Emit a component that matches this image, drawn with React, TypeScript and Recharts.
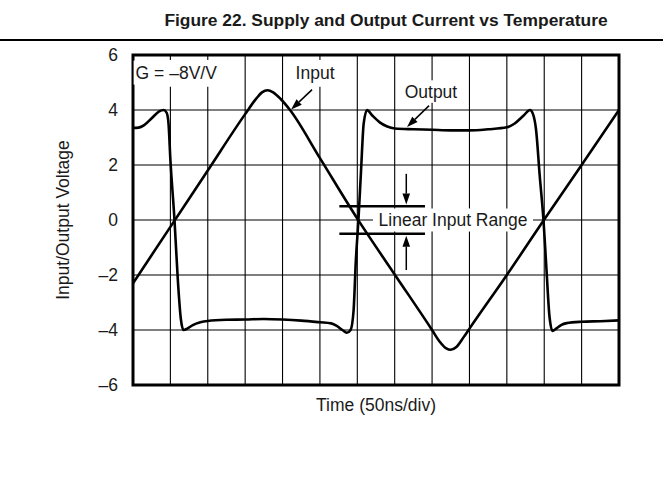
import React from 'react';
import {
  LineChart,
  Line,
  XAxis,
  YAxis,
  CartesianGrid,
  ReferenceLine,
  ReferenceArea,
  Label,
} from 'recharts';

const title = 'Figure 22. Supply and Output Current vs Temperature';
const xAxisLabel = 'Time (50ns/div)';
const yAxisLabel = 'Input/Output Voltage';
const gainLabel = 'G = –8V/V';
const inputLabel = 'Input';
const outputLabel = 'Output';
const rangeLabel = 'Linear Input Range';

const xTicks = [0, 1, 2, 3, 4, 5, 6, 7, 8, 9, 10, 11, 12, 13];
const yTicks = [-6, -4, -2, 0, 2, 4, 6];

const inputTime = [0, 1, 2, 3, 3.3, 3.45, 3.6, 3.75, 3.95, 4.2, 5, 6, 7, 8, 8.2, 8.38, 8.5, 8.65, 8.85, 9.0, 10, 11, 12, 13];
const inputVolt = [-2.3, -0.25, 1.8, 3.85, 4.42, 4.64, 4.72, 4.64, 4.4, 4.0, 2.25, 0.05, -1.98, -4.0, -4.42, -4.67, -4.72, -4.62, -4.25, -3.95, -2.0, 0.02, 2.0, 4.0];

const outputTime = [0, 0.15, 0.3, 0.5, 0.7, 0.82, 0.9, 0.95, 1.0, 1.11, 1.2, 1.28, 1.35, 1.45, 1.6, 1.8, 2.0, 2.5, 3.0, 3.5, 4.0, 4.5, 5.0, 5.3, 5.45, 5.6, 5.72, 5.82, 5.9, 5.96, 6.03, 6.1, 6.17, 6.26, 6.4, 6.6, 6.8, 7.0, 7.5, 8, 8.5, 9, 9.5, 10, 10.2, 10.45, 10.62, 10.7, 10.78, 10.88, 10.98, 11.06, 11.14, 11.22, 11.32, 11.45, 11.6, 12, 12.5, 13];
const outputVolt = [3.35, 3.36, 3.45, 3.7, 3.95, 4.0, 3.9, 3.5, 2.2, 0, -2.2, -3.6, -4.0, -3.95, -3.82, -3.72, -3.67, -3.63, -3.62, -3.6, -3.62, -3.66, -3.72, -3.76, -3.85, -4.0, -4.1, -4.0, -3.3, -1.5, 0, 1.8, 3.5, 4.0, 3.8, 3.55, 3.4, 3.33, 3.3, 3.28, 3.26, 3.26, 3.3, 3.37, 3.5, 3.8, 4.0, 3.85, 3.3, 1.6, 0, -1.8, -3.5, -4.03, -3.95, -3.82, -3.75, -3.7, -3.68, -3.65];

const inputData = inputTime.map((t, i) => ({ t, v: inputVolt[i] }));
const outputData = outputTime.map((t, i) => ({ t, v: outputVolt[i] }));

// annotation anchors in data units
const inputArrow = [{ x: 4.79, y: 4.74 }, { x: 4.23, y: 4.02 }];
const outputArrow = [{ x: 7.92, y: 4.16 }, { x: 7.33, y: 3.38 }];
const rangeBarsX = [5.52, 7.81];
const rangeBarsY = [0.5, -0.5];
const rangeArrowDown = [{ x: 7.31, y: 1.68 }, { x: 7.31, y: 0.56 }];
const rangeArrowUp = [{ x: 7.31, y: -1.82 }, { x: 7.31, y: -0.57 }];
const gainPos = { x: 0.07, y: 5.36 };
const inputPos = { x: 4.87, y: 5.36 };
const outputPos = { x: 7.97, y: 4.67 };
const rangePos = { x: 8.56, y: 0 };

// label clear-zones where the grid is interrupted (data units)
const gridGaps = [
  { x0: 0.0, x1: 2.45, y0: 4.85, y1: 5.82 },
  { x0: 4.25, x1: 5.48, y0: 4.85, y1: 5.82 },
  { x0: 7.17, x1: 8.77, y0: 4.27, y1: 5.07 },
  { x0: 6.39, x1: 10.67, y0: -0.42, y1: 0.42 },
];

const verticalSegments = (t: number) => {
  const gaps = gridGaps
    .filter((g) => t > g.x0 && t < g.x1)
    .sort((a, b) => a.y0 - b.y0);
  const segs: { x: number; y: number }[][] = [];
  let start = -6;
  gaps.forEach((g) => {
    segs.push([{ x: t, y: start }, { x: t, y: g.y0 }]);
    start = g.y1;
  });
  segs.push([{ x: t, y: start }, { x: t, y: 6 }]);
  return segs;
};

const FONT = '"Liberation Sans", Arial, Helvetica, sans-serif';
const TEXT = '#1a1a1a';

const Arrow = (p: any) => {
  const { x1, y1, x2, y2 } = p;
  const ang = Math.atan2(y2 - y1, x2 - x1);
  const len = 11;
  const hw = 3.8;
  const bx = x2 - len * Math.cos(ang);
  const by = y2 - len * Math.sin(ang);
  const px = -Math.sin(ang) * hw;
  const py = Math.cos(ang) * hw;
  return (
    <g>
      <line x1={x1} y1={y1} x2={bx} y2={by} stroke="#000" strokeWidth={1.5} />
      <polygon points={`${x2},${y2} ${bx + px},${by + py} ${bx - px},${by - py}`} fill="#000" />
    </g>
  );
};

const textShape = (label: string, anchor: string, bg: number, bgH: number) => (p: any) => {
  const cx = p.x1;
  const cy = p.y1;
  const rx = anchor === 'start' ? cx - 2 : cx - bg / 2;
  return (
    <g>
      <rect x={rx} y={cy - bgH / 2} width={bg} height={bgH} fill="#fff" />
      <text
        x={cx}
        y={cy}
        textAnchor={anchor}
        dominantBaseline="central"
        fontFamily={FONT}
        fontSize={17.5}
        fill={TEXT}
      >
        {label}
      </text>
    </g>
  );
};

const fmt = (v: number) => (v < 0 ? '–' + Math.abs(v) : String(v));

export default function App() {
  return (
    <div style={{ position: 'absolute', left: 0, top: 0, width: 663, height: 481, background: '#fff' }}>
      <div
        style={{
          position: 'absolute',
          left: 386,
          top: 10,
          transform: 'translateX(-50%)',
          whiteSpace: 'nowrap',
          fontFamily: FONT,
          fontWeight: 'bold',
          fontSize: 17.4,
          color: TEXT,
          lineHeight: 'normal',
        }}
      >
        {title}
      </div>
      <div style={{ position: 'absolute', left: 0, top: 39, width: 663, height: 1.6, background: '#000' }} />
      <div style={{ position: 'absolute', left: 0, top: 0 }}>
        <LineChart width={663} height={481} margin={{ top: 55, right: 44, bottom: 56, left: 0 }}>
          <CartesianGrid stroke="#000" strokeWidth={1.1} horizontal vertical={false} />
          <XAxis
            type="number"
            dataKey="t"
            domain={[0, 13]}
            ticks={xTicks}
            tick={false}
            tickLine={false}
            axisLine={false}
            height={40}
            allowDataOverflow
          >
            <Label
              value={xAxisLabel}
              position="insideTop"
              offset={14}
              style={{ fontFamily: FONT, fontSize: 17.5, fill: TEXT }}
            />
          </XAxis>
          <YAxis
            type="number"
            domain={[-6, 6]}
            ticks={yTicks}
            tickFormatter={fmt}
            tickLine={false}
            axisLine={false}
            tickSize={0}
            tickMargin={15}
            width={133}
            tick={{ fontFamily: FONT, fontSize: 17.5, fill: TEXT }}
            allowDataOverflow
          >
            <Label
              value={yAxisLabel}
              angle={-90}
              position="center"
              dx={-4}
              style={{ fontFamily: FONT, fontSize: 17.5, fill: TEXT, textAnchor: 'middle' }}
            />
          </YAxis>
          {xTicks.flatMap((t) =>
            verticalSegments(t).map((seg, i) => (
              <ReferenceLine key={'vg' + t + '-' + i} segment={seg} stroke="#000" strokeWidth={1.1} />
            ))
          )}
          <ReferenceLine segment={[rangePos, rangePos]} shape={textShape(rangeLabel, 'middle', 160, 22)} />
          <ReferenceLine segment={[gainPos, gainPos]} shape={textShape(gainLabel, 'start', 90, 24)} />
          <ReferenceLine segment={[inputPos, inputPos]} shape={textShape(inputLabel, 'middle', 46, 24)} />
          <ReferenceLine segment={[outputPos, outputPos]} shape={textShape(outputLabel, 'middle', 60, 22)} />
          <ReferenceLine
            segment={[{ x: rangeBarsX[0], y: rangeBarsY[0] }, { x: rangeBarsX[1], y: rangeBarsY[0] }]}
            stroke="#000"
            strokeWidth={2.5}
          />
          <ReferenceLine
            segment={[{ x: rangeBarsX[0], y: rangeBarsY[1] }, { x: rangeBarsX[1], y: rangeBarsY[1] }]}
            stroke="#000"
            strokeWidth={2.5}
          />
          <ReferenceLine segment={rangeArrowDown} shape={Arrow} />
          <ReferenceLine segment={rangeArrowUp} shape={Arrow} />
          <ReferenceLine segment={inputArrow} shape={Arrow} />
          <ReferenceLine segment={outputArrow} shape={Arrow} />
          <Line
            data={inputData}
            dataKey="v"
            type="monotone"
            stroke="#000"
            strokeWidth={2.6}
            dot={false}
            isAnimationActive={false}
          />
          <Line
            data={outputData}
            dataKey="v"
            type="monotone"
            stroke="#000"
            strokeWidth={2.6}
            dot={false}
            isAnimationActive={false}
          />
          <ReferenceArea x1={0} x2={13} y1={-6} y2={6} fill="none" stroke="#000" strokeWidth={3} fillOpacity={0} ifOverflow="visible" />
        </LineChart>
      </div>
    </div>
  );
}
